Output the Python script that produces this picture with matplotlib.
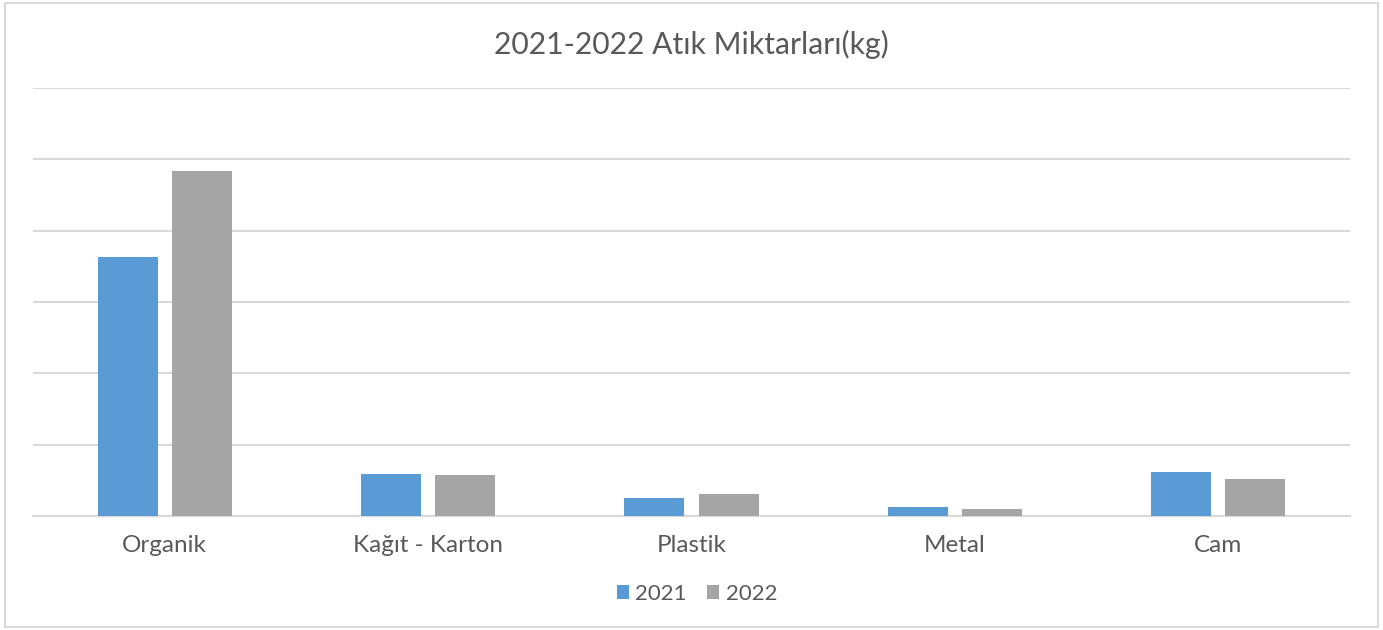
import matplotlib
matplotlib.use("Agg")
import matplotlib.pyplot as plt
import numpy as np
from matplotlib.patches import Rectangle

categories = ["Organik", "Kağıt - Karton", "Plastik", "Metal", "Cam"]
series_names = ["2021", "2022"]
values_2021 = [3.63, 0.59, 0.25, 0.12, 0.62]
values_2022 = [4.84, 0.57, 0.31, 0.10, 0.52]
title = "2021-2022 Atık Miktarları(kg)"

colors = ["#5B9BD5", "#A5A5A5"]
text_color = "#595959"
grid_color = "#D9D9D9"

plt.rcParams['font.family'] = ['Lato', 'DejaVu Sans']

fig = plt.figure(figsize=(13.83, 6.30), dpi=100)
ax = fig.add_axes([33/1383, 1 - 516/630, (1350-33)/1383, (516-88)/630])

x = np.arange(len(categories))
w = 0.228
off = 0.141
ax.bar(x - off, values_2021, w, color=colors[0], label=series_names[0], zorder=3)
ax.bar(x + off, values_2022, w, color=colors[1], label=series_names[1], zorder=3)

ax.set_xlim(-0.5, len(categories) - 0.5)
ax.set_ylim(0, 6)
ax.set_yticks(np.arange(0, 7, 1))
ax.yaxis.grid(True, color=grid_color, linewidth=1.5, zorder=0)
ax.tick_params(axis='y', left=False, labelleft=False)
ax.tick_params(axis='x', length=0, pad=14, labelsize=17.5, labelcolor=text_color)
ax.set_xticks(x)
ax.set_xticklabels(categories)
for s in ["top", "right", "left"]:
    ax.spines[s].set_visible(False)
ax.spines["bottom"].set_color(grid_color)
ax.spines["bottom"].set_linewidth(1.5)

fig.text(691/1383, 1 - 44/630, title, ha='center', va='center', fontsize=21.7, color=text_color)

leg = fig.legend(loc='center', bbox_to_anchor=(697/1383, 1 - 594/630), ncol=2, frameon=False,
                 fontsize=16, handlelength=0.55, handleheight=0.55, handletextpad=0.3,
                 columnspacing=0.9, labelcolor=text_color)

fig.patches.append(Rectangle((5/1383, 3/630), 1373/1383, 624/630, transform=fig.transFigure,
                             fill=False, edgecolor=grid_color, linewidth=1.5))

fig.savefig("out.png", dpi=100, facecolor="white")
